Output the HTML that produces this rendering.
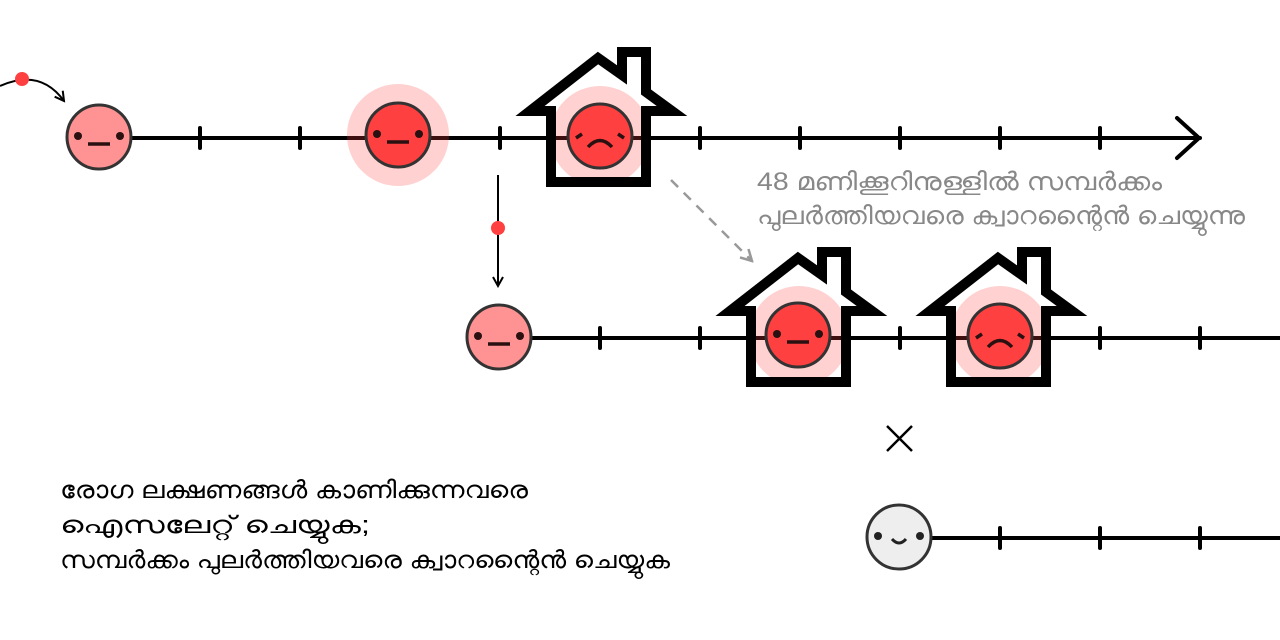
<!DOCTYPE html>
<html><head><meta charset="utf-8"><style>
html,body{margin:0;padding:0;background:#fff;width:1280px;height:640px;overflow:hidden}
svg{display:block}
text{font-family:"Liberation Sans","DejaVu Sans",sans-serif}
</style></head><body>
<svg width="1280" height="640" viewBox="0 0 1280 640" xmlns="http://www.w3.org/2000/svg">
<defs>
<g id="housefill"><path d="M -49,44 V -27 H -70 L -2,-80 L 22,-63 V -86 H 46 V -46 L 72,-27 H 46 V 44 Z" fill="#fff"/></g>
<g id="housestroke"><path d="M -49,44 V -27 H -70 L -2,-80 L 22,-63 V -86 H 46 V -46 L 72,-27 H 46 V 44 Z" fill="none" stroke="#000" stroke-width="10" stroke-linejoin="miter"/></g>
<g id="neutral"><circle r="32" stroke="#333" stroke-width="3"/><circle cx="-21" cy="-1" r="4" fill="#2a1010"/><circle cx="21" cy="-1" r="4" fill="#2a1010"/><line x1="-11" y1="7" x2="11" y2="7" stroke="#2a1010" stroke-width="3.5"/></g>
<g id="sad"><circle r="32" stroke="#333" stroke-width="3"/><path d="M -12,11 Q 0,-2 12,11" fill="none" stroke="#2a1010" stroke-width="3.5"/><line x1="-24" y1="2" x2="-18" y2="-2" stroke="#2a1010" stroke-width="3.5"/><line x1="24" y1="2" x2="18" y2="-2" stroke="#2a1010" stroke-width="3.5"/></g>
<g id="happy"><circle r="32" fill="#eee" stroke="#333" stroke-width="3"/><circle cx="-21" cy="-1" r="4" fill="#222"/><circle cx="21" cy="-1" r="4" fill="#222"/><path d="M -7,2 Q 0,10 7,2" fill="none" stroke="#222" stroke-width="3"/></g>
<marker id="ah" markerWidth="12" markerHeight="12" refX="10" refY="6" orient="auto" markerUnits="userSpaceOnUse"><path d="M1,1 L10,6 L1,11" fill="none" stroke="#000" stroke-width="2"/></marker>
<marker id="ahg" markerWidth="14" markerHeight="14" refX="12" refY="7" orient="auto" markerUnits="userSpaceOnUse"><path d="M1,1 L12,7 L1,13" fill="none" stroke="#999" stroke-width="2.5"/></marker>
</defs>

<use href="#housefill" x="600" y="138"/>
<use href="#housefill" x="800" y="338"/>
<use href="#housefill" x="1000" y="338"/>

<g stroke="#000" stroke-width="4" stroke-linecap="round">
<line x1="130" y1="138" x2="1200" y2="138"/>
<polyline points="1177,118 1199,138 1177,158" fill="none"/>
<line x1="200" y1="128" x2="200" y2="148"/><line x1="300" y1="128" x2="300" y2="148"/>
<line x1="500" y1="128" x2="500" y2="148"/><line x1="700" y1="128" x2="700" y2="148"/>
<line x1="800" y1="128" x2="800" y2="148"/><line x1="900" y1="128" x2="900" y2="148"/>
<line x1="1000" y1="128" x2="1000" y2="148"/><line x1="1100" y1="128" x2="1100" y2="148"/>
<line x1="530" y1="338" x2="1282" y2="338"/>
<line x1="600" y1="328" x2="600" y2="348"/><line x1="700" y1="328" x2="700" y2="348"/>
<line x1="900" y1="328" x2="900" y2="348"/><line x1="1100" y1="328" x2="1100" y2="348"/>
<line x1="1200" y1="328" x2="1200" y2="348"/>
<line x1="930" y1="538" x2="1282" y2="538"/>
<line x1="1000" y1="528" x2="1000" y2="548"/><line x1="1100" y1="528" x2="1100" y2="548"/>
<line x1="1200" y1="528" x2="1200" y2="548"/>
</g>

<g fill="#ff4040" fill-opacity="0.24">
<circle cx="398" cy="135" r="51"/>
<circle cx="600" cy="136" r="50"/>
<circle cx="799" cy="336" r="50"/>
<circle cx="1000" cy="336" r="50"/>
</g>

<use href="#housestroke" x="600" y="138"/>
<use href="#housestroke" x="800" y="338"/>
<use href="#housestroke" x="1000" y="338"/>

<use href="#neutral" x="99" y="137" fill="#ff9393"/>
<use href="#neutral" x="398" y="135" fill="#ff4040"/>
<use href="#sad" x="600" y="136" fill="#ff4040"/>
<use href="#neutral" x="499" y="337" fill="#ff9393"/>
<use href="#neutral" x="798" y="335" fill="#ff4040"/>
<use href="#sad" x="1000" y="336" fill="#ff4040"/>
<use href="#happy" x="899" y="537"/>

<g stroke="#000" stroke-width="2.5"><line x1="887" y1="426" x2="912" y2="451"/><line x1="912" y1="426" x2="887" y2="451"/></g>

<path d="M 0,86 Q 40,68 64,101" fill="none" stroke="#000" stroke-width="2" marker-end="url(#ah)"/>
<circle cx="22" cy="79" r="7" fill="#ff4040"/>

<line x1="498" y1="175" x2="498" y2="286" stroke="#000" stroke-width="2" marker-end="url(#ah)"/>
<circle cx="498" cy="228" r="7" fill="#ff4040"/>

<line x1="671" y1="180" x2="752" y2="261" stroke="#999" stroke-width="2.5" stroke-dasharray="10,8" marker-end="url(#ahg)"/>

<g font-size="25" fill="#888">
<text x="757" y="190" textLength="405" lengthAdjust="spacingAndGlyphs">48 മണിക്കൂറിനുള്ളിൽ സമ്പർക്കം</text>
<text x="757" y="224" textLength="488" lengthAdjust="spacingAndGlyphs">പുലർത്തിയവരെ ക്വാറന്റൈൻ ചെയ്യുന്നു</text>
</g>
<g font-size="24" fill="#000">
<text x="60" y="498" textLength="468" lengthAdjust="spacingAndGlyphs">രോഗ ലക്ഷണങ്ങൾ കാണിക്കുന്നവരെ</text>
<text x="60" y="533" textLength="310" lengthAdjust="spacingAndGlyphs">ഐസലേറ്റ് ചെയ്യുക;</text>
<text x="60" y="568" textLength="610" lengthAdjust="spacingAndGlyphs">സമ്പർക്കം പുലർത്തിയവരെ ക്വാറന്റൈൻ ചെയ്യുക</text>
</g>
</svg>
</body></html>
